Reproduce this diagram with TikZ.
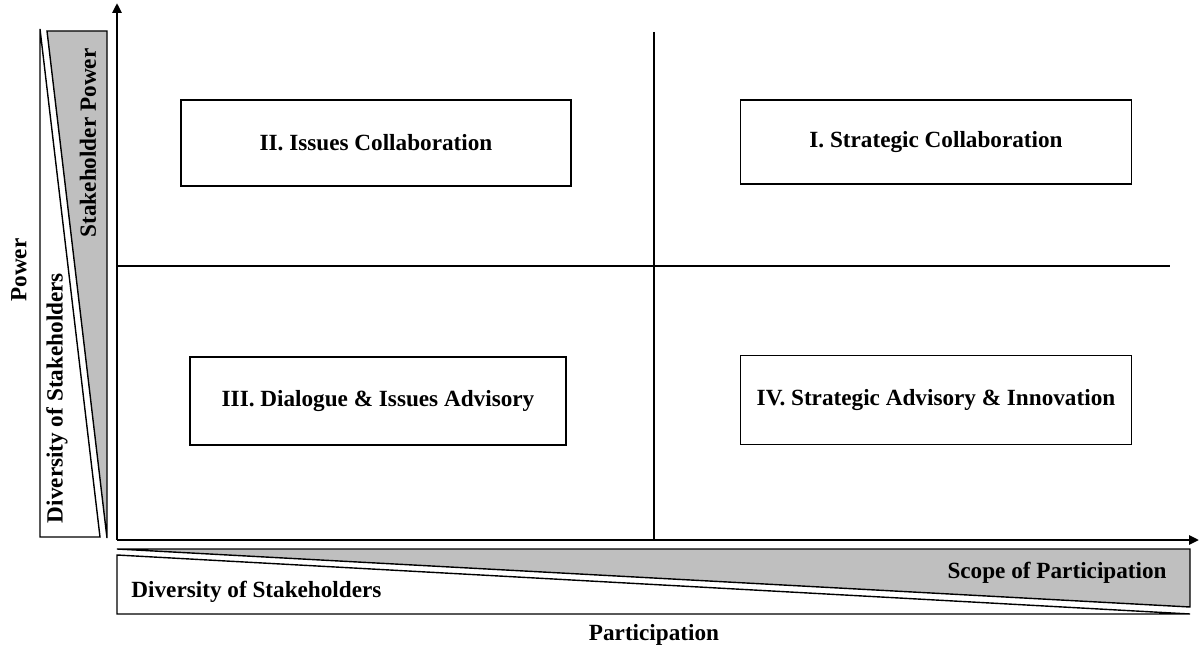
\documentclass[tikz,border=0pt]{standalone}
\usepackage{fontspec}
\setmainfont{Liberation Serif}
\usetikzlibrary{arrows.meta}
\tikzset{
  txt/.style={font=\fontsize{11.6}{14}\selectfont\bfseries, inner sep=0pt},
  quad/.style={txt, draw, line width=0.75pt, fill=white},
  axis/.style={line width=1.4pt, -{Triangle[length=5pt,width=4.5pt]}},
  split/.style={line width=0.55pt},
  wedge/.style={line width=0.7pt}
}

\begin{document}
\begin{tikzpicture}[x=0.5pt,y=-0.5pt]
\useasboundingbox (0,0) rectangle (1199,652);
% side wedges
\filldraw[wedge, fill=white] (40,29) -- (100,537) -- (40,537) -- cycle;
\filldraw[wedge, fill=gray!50] (47,31) -- (107,31) -- (107,538) -- cycle;
\filldraw[wedge, fill=gray!50] (117,549) -- (1190,549) -- (1190,607) -- cycle;
\filldraw[wedge, fill=white] (117,555) -- (117,614) -- (1190,614) -- cycle;
% axes and quadrant lines
\coordinate (o) at (117,540);
\coordinate (ytip) at (117,3);
\coordinate (xtip) at (1199,540);
\coordinate (vtop) at (654,32);
\coordinate (vbot) at (654,540);
\coordinate (hleft) at (117,266);
\coordinate (hright) at (1170,266);
\draw[split] (vtop) -- (vbot);
\draw[split] (hleft) -- (hright);
\draw[axis] (o) -- (ytip);
\draw[axis] (o) -- (xtip);
% quadrants
\node[quad, minimum width=195pt, minimum height=43pt] (q2) at (376,143) {II. Issues Collaboration};
\node[quad, minimum width=195.5pt, minimum height=42pt] (q1) at (936,142) {I. Strategic Collaboration};
\node[quad, minimum width=188pt, minimum height=44pt] (q3) at (378,401) {III. Dialogue \& Issues Advisory};
\node[quad, minimum width=195.5pt, minimum height=44.5pt] (q4) at (936,400) {IV. Strategic Advisory \& Innovation};
% labels
\node[txt, rotate=90] (power) at (19,270) {Power};
\node[txt, rotate=90] (stpower) at (88,143) {Stakeholder Power};
\node[txt, rotate=90] (divleft) at (57,398) {Diversity of Stakeholders};
\node[txt, anchor=west] (divbot) at (131,592) {Diversity of Stakeholders};
\node[txt, anchor=east] (scope) at (1167,573) {Scope of Participation};
\node[txt] (particip) at (654,635) {Participation};
\end{tikzpicture}
\end{document}
